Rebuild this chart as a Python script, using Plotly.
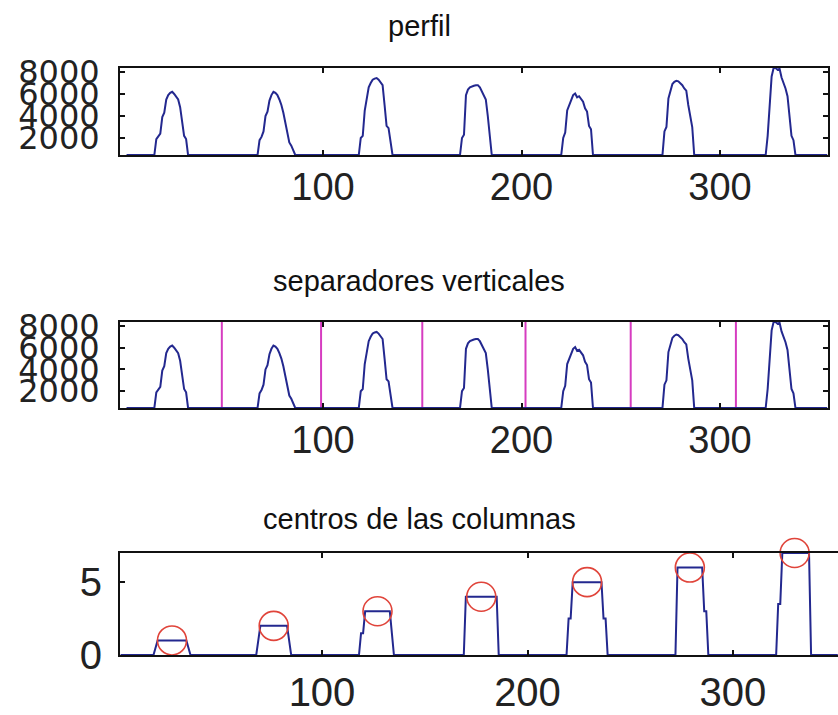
import plotly.graph_objects as go

# ---------------- data ----------------
titles = ["perfil", "separadores verticales", "centros de las columnas"]

# column-sum profile (subplots 1 and 2)
profile_n = 354
profile_base = 455
peak_starts = [15, 67, 118, 169, 220, 271, 323]
peak_1 = [455, 1900, 2100, 2400, 3900, 4300, 5500, 5900, 6100, 6200, 6000, 5800, 5500, 4800, 3600, 2200, 1900, 455]
peak_2 = [455, 1800, 2100, 2600, 4000, 4400, 5400, 5900, 6200, 6100, 5900, 5500, 5000, 4300, 3300, 2600, 1600, 1300, 900, 455]
peak_3 = [455, 2000, 2200, 4500, 5800, 6600, 7000, 7300, 7400, 7450, 7300, 7100, 6800, 5000, 3100, 2900, 1500, 455]
peak_4 = [455, 2000, 2300, 5900, 6400, 6600, 6700, 6750, 6800, 6800, 6600, 6200, 5900, 5500, 4000, 2100, 455]
peak_5 = [455, 2000, 2500, 4500, 5000, 5600, 5900, 6050, 5700, 5800, 5500, 5300, 4700, 4400, 3100, 2800, 455]
peak_6 = [455, 2600, 3000, 5600, 6400, 6900, 7100, 7200, 7150, 7000, 6800, 6500, 6300, 5000, 3900, 3000, 455]
peak_7 = [455, 2200, 5500, 7600, 8360, 8360, 8200, 8300, 7500, 7000, 6500, 5800, 4200, 2200, 1800, 455]
peaks = [peak_1, peak_2, peak_3, peak_4, peak_5, peak_6, peak_7]

# vertical separators (subplot 2)
separators = [49, 99, 150, 202, 255, 308]

# labelled columns (subplot 3)
label_x0, label_x1 = 2, 351
col_starts = [19, 69, 119, 170, 220, 273, 322]
col_1 = [0.5, 1, 1, 1, 1, 1, 1, 1, 1, 1, 1, 1, 1, 1, 1, 1, 0.5]
col_2 = [1, 2, 2, 2, 2, 2, 2, 2, 2, 2, 2, 2, 2, 2, 2, 1]
col_3 = [1.5, 1.5, 3, 3, 3, 3, 3, 3, 3, 3, 3, 3, 3, 3, 3, 1.5]
col_4 = [4, 4, 4, 4, 4, 4, 4, 4, 4, 4, 4, 4, 4, 4, 4, 4]
col_5 = [2.5, 2.5, 5, 5, 5, 5, 5, 5, 5, 5, 5, 5, 5, 5, 5, 5, 5, 2.5, 2.5]
col_6 = [6, 6, 6, 6, 6, 6, 6, 6, 6, 6, 6, 6, 6, 3, 3]
col_7 = [3.5, 3.5, 7, 7, 7, 7, 7, 7, 7, 7, 7, 7, 7, 7, 7, 7]
cols = [col_1, col_2, col_3, col_4, col_5, col_6, col_7]

centers_x = [27, 76.5, 127, 177.5, 229, 279, 330]
centers_y = [1, 2, 3, 4, 5, 6, 7]

x_ticks = [100, 200, 300]
prof_ticks = [2000, 4000, 6000, 8000]
label_ticks = [0, 5]

# ---------------- build series ----------------
prof_x = list(range(1, profile_n + 1))
prof_y = [profile_base] * profile_n
for s, vals in zip(peak_starts, peaks):
    for i, v in enumerate(vals):
        prof_y[s + i - 1] = v

lab_x = list(range(label_x0, label_x1 + 1))
lab_y = [0.0] * len(lab_x)
for s, vals in zip(col_starts, cols):
    for i, v in enumerate(vals):
        lab_y[s + i - label_x0] = v

# ---------------- figure ----------------
W, H = 838, 715
BLUE = "#23288f"
MAG = "#d63cc0"
fig = go.Figure()

fig.add_trace(go.Scatter(x=prof_x, y=prof_y, mode="lines",
                         line=dict(color=BLUE, width=2), xaxis="x", yaxis="y"))
fig.add_trace(go.Scatter(x=prof_x, y=prof_y, mode="lines",
                         line=dict(color=BLUE, width=2), xaxis="x2", yaxis="y2"))
fig.add_trace(go.Scatter(x=lab_x, y=lab_y, mode="lines",
                         line=dict(color=BLUE, width=2), xaxis="x3", yaxis="y3"))
fig.add_trace(go.Scatter(x=centers_x, y=centers_y, mode="markers",
                         marker=dict(symbol="circle-open", size=29, color="#e0443a",
                                     line=dict(width=1.6, color="#e0443a")),
                         cliponaxis=False, xaxis="x3", yaxis="y3"))

for s in separators:
    fig.add_shape(type="line", xref="x2", yref="y2 domain", x0=s, x1=s, y0=0, y1=1,
                  line=dict(color=MAG, width=2), layer="below")

def px_x(p):
    return p / W

def px_y(p):
    return 1 - p / H

ax_common = dict(showline=True, linecolor="#111", linewidth=2, mirror="ticks",
                 ticks="inside", ticklen=5, tickwidth=2, tickcolor="#111",
                 showgrid=False, zeroline=False, automargin=False)
xfont = dict(family="Liberation Sans, Arial, sans-serif", size=38, color="#222")
yfont = dict(family="DejaVu Sans, sans-serif", size=32, color="#222")
y3font = dict(family="Liberation Sans, Arial, sans-serif", size=40, color="#222")

y3_common = dict(ax_common)
y3_common["mirror"] = False

fig.update_layout(
    width=W, height=H, margin=dict(l=0, r=0, t=0, b=0, autoexpand=False),
    paper_bgcolor="white", plot_bgcolor="white", showlegend=False,
    xaxis=dict(domain=[px_x(120), px_x(828)], range=[-2.3, 354.4], anchor="y",
               tickvals=x_ticks, tickfont=xfont, ticklabelstandoff=-3, **ax_common),
    yaxis=dict(domain=[px_y(155), px_y(68)], range=[455, 8364], anchor="x",
               tickvals=prof_ticks, tickfont=yfont, ticklabelstandoff=12, **ax_common),
    xaxis2=dict(domain=[px_x(120), px_x(828)], range=[-2.3, 354.4], anchor="y2",
                tickvals=x_ticks, tickfont=xfont, ticklabelstandoff=-3, **ax_common),
    yaxis2=dict(domain=[px_y(408), px_y(322)], range=[455, 8364], anchor="x2",
                tickvals=prof_ticks, tickfont=yfont, ticklabelstandoff=12, **ax_common),
    xaxis3=dict(domain=[px_x(120), 1.0], range=[1.7, 351.1], anchor="y3",
                tickvals=x_ticks, tickfont=y3font, ticklabelstandoff=1, **ax_common),
    yaxis3=dict(domain=[px_y(655), px_y(553)], range=[0, 7], anchor="x3",
                tickvals=label_ticks, tickfont=y3font, ticklabelstandoff=8, **y3_common),
)

title_font = dict(family="Liberation Sans, Arial, sans-serif", size=29, color="#111")
for t, yp in zip(titles, [26, 281, 519]):
    fig.add_annotation(text=t, xref="paper", yref="paper", x=0.5, y=px_y(yp),
                       xanchor="center", yanchor="middle", showarrow=False, font=title_font)

fig.write_html("out.html", config={"displayModeBar": False},
               post_script="document.body.style.margin='0';")
